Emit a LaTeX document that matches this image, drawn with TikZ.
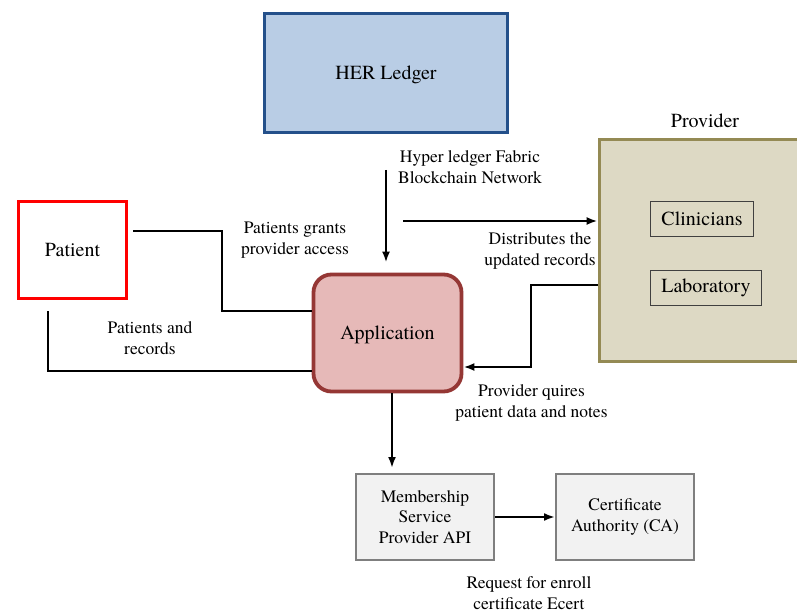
\documentclass[tikz,border=0pt]{standalone}
\usepackage{fontspec}
\setmainfont{TeX Gyre Termes}
\usetikzlibrary{arrows.meta,positioning}

\definecolor{ledgerline}{HTML}{24508A}
\definecolor{ledgerfill}{HTML}{B9CDE5}
\definecolor{appline}{HTML}{953735}
\definecolor{appfill}{HTML}{E6B9B8}
\definecolor{provline}{HTML}{948A54}
\definecolor{provfill}{HTML}{DDD9C4}
\definecolor{mspline}{HTML}{7F7F7F}
\definecolor{mspfill}{HTML}{F2F2F2}

\begin{document}
\begin{tikzpicture}[x=1pt,y=-1pt,
	bigbox/.style={draw, line width=3.8pt, inner sep=0pt, text depth=0pt, align=center, font=\fontsize{20}{24}\selectfont},
	smallbox/.style={draw=black!75, line width=1.5pt, fill=provfill, inner sep=0pt, font=\fontsize{20}{24}\selectfont},
	apibox/.style={draw=mspline, line width=2pt, fill=mspfill, inner sep=0pt, align=center, minimum width=138pt, minimum height=86pt, font=\fontsize{17.5}{20.5}\selectfont},
	lbl/.style={align=center, font=\fontsize{17.5}{21}\selectfont},
	link/.style={line width=2.4pt},
	flow/.style={line width=2.4pt, -{Latex[length=11pt,width=8pt]}}]
			\useasboundingbox (0,0) rectangle (797,612);

			\node[bigbox, draw=ledgerline, fill=ledgerfill, minimum width=243pt, minimum height=119pt] (ledger) at (386,73) {HER Ledger};
			\node[bigbox, draw=red, fill=white, minimum width=108pt, minimum height=97pt] (patient) at (72.5,250) {Patient};
			\node[bigbox, draw=appline, fill=appfill, rounded corners=18pt, minimum width=148pt, minimum height=117pt] (app) at (387.5,333) {Application};
			\node[bigbox, draw=provline, fill=provfill, minimum width=201pt, minimum height=222pt] (provider) at (700,250.5) {};
			\node[font=\fontsize{20}{24}\selectfont] (provlbl) at (705,121) {Provider};
			\node[smallbox, minimum width=103pt, minimum height=35pt] (clin) at (702,219) {Clinicians};
			\node[smallbox, minimum width=111pt, minimum height=35pt] (lab) at (706,288) {Laboratory};

			\node[apibox] (msp) at (425,517) {Membership\\Service\\Provider API};
			\node[apibox] (ca) at (625,517) {Certificate\\Authority (CA)};

			% connectors
			\coordinate (hlf) at (386,170);
			\draw[flow, shorten >=10pt] (hlf) -- (app.north -| hlf);
			\node[lbl] (hlflbl) at (470,167) {Hyper ledger Fabric\\Blockchain Network};

			\coordinate (dist) at (403,221);
			\draw[flow] (dist) -- (provider.west |- dist);
			\node[lbl] (distlbl) at (540,251) {Distributes the\\updated records};

			\coordinate (grant) at (133,231);
			\draw[link] (grant) -| (222,311) -- (app.west |- 0,311);
			\node[lbl] (grantlbl) at (295,240) {Patients grants\\provider access};

			\coordinate (rec) at (48,311);
			\draw[link] (rec) |- (app.west |- 0,371);
			\node[lbl] (reclbl) at (150,338) {Patients and\\records};

			\draw[flow] (provider.west |- 0,285) -| (531,367) -- (app.east |- 0,367);
			\node[lbl] (querylbl) at (531.5,403) {Provider quires\\patient data and notes};

			\coordinate (down) at (392,0);
			\draw[flow, shorten >=5pt] (app.south -| down) -- (msp.north -| down);

			\draw[flow] (msp.east) -- (ca.west);
			\node[lbl] (enrolllbl) at (529,593) {Request for enroll\\certificate Ecert};
\end{tikzpicture}
\end{document}
